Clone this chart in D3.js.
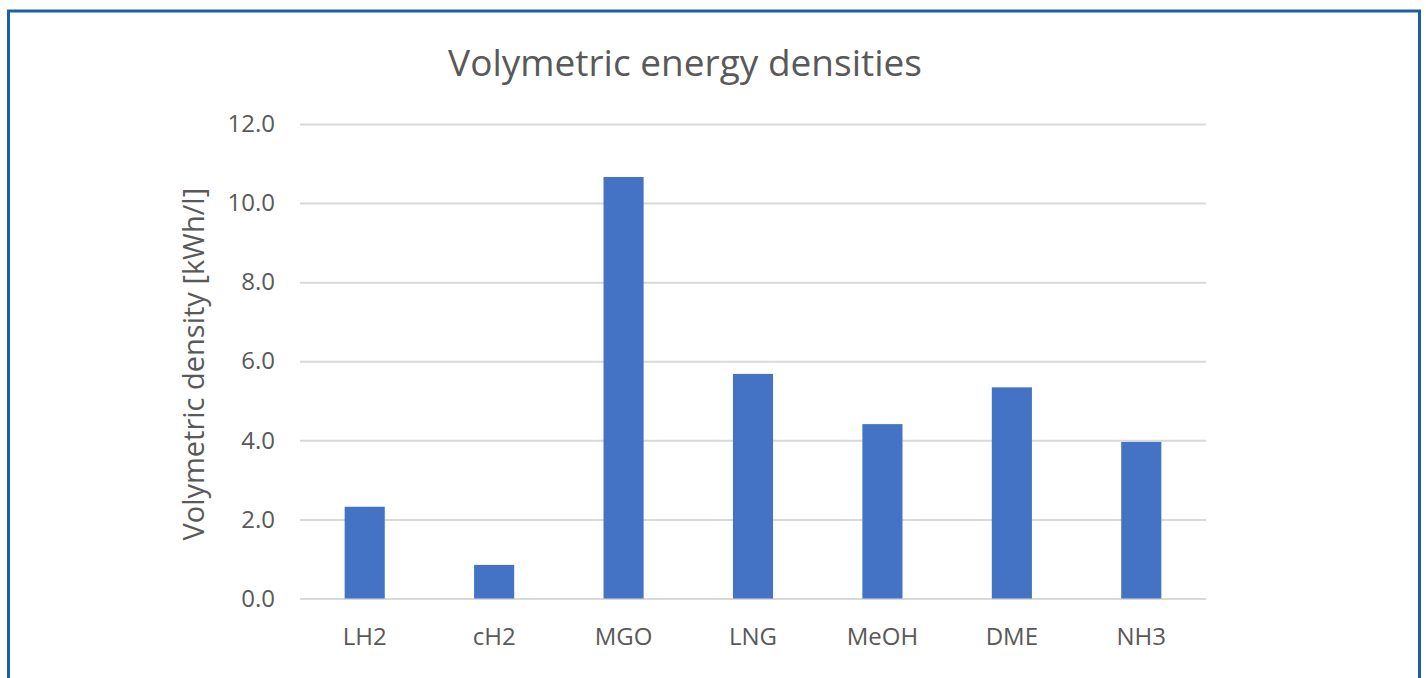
<!DOCTYPE html>
<html>
<head>
<meta charset="utf-8">
<script src="https://cdn.jsdelivr.net/npm/d3@7"></script>
<style>
  html, body { margin: 0; padding: 0; background: #fff; }
  svg { display: block; }
  text { font-family: "Open Sans", "Noto Sans", sans-serif; }
</style>
</head>
<body>
<svg id="chart" width="1426" height="678"></svg>
<script>
// Fuel types and their volumetric energy density (kWh per litre)
const fuels = ["LH2", "cH2", "MGO", "LNG", "MeOH", "DME", "NH3"];
const densities = [2.32, 0.85, 10.66, 5.68, 4.41, 5.34, 3.96];
const yTicks = [0, 2, 4, 6, 8, 10, 12];

const svg = d3.select("#chart");
const W = 1426, H = 678;

// Frame around the figure (open at the bottom edge)
svg.append("path")
  .attr("d", `M8.5,${H} L8.5,11 L1419.5,11 L1419.5,${H}`)
  .attr("fill", "none")
  .attr("stroke", "#1b5fa8")
  .attr("stroke-width", 3);

const plot = { left: 300, right: 1206, top: 124, bottom: 598.5 };

const x = d3.scaleBand()
  .domain(fuels)
  .range([plot.left, plot.right])
  .paddingInner(0.69)
  .paddingOuter(0.345);

const y = d3.scaleLinear()
  .domain([0, 12])
  .range([plot.bottom, plot.top]);

// Horizontal gridlines with value labels
const yAxis = d3.axisLeft(y)
  .tickValues(yTicks)
  .tickFormat(d3.format(".1f"))
  .tickSize(-(plot.right - plot.left))
  .tickPadding(25);

const gy = svg.append("g")
  .attr("transform", `translate(${plot.left},0)`)
  .call(yAxis);
gy.select(".domain").remove();
gy.selectAll(".tick line").attr("stroke", "#d9d9d9").attr("stroke-width", 2);
gy.selectAll(".tick text")
  .attr("fill", "#595959")
  .style("font-size", "24px");

// Bars
svg.append("g")
  .selectAll("rect")
  .data(fuels.map((f, i) => ({ fuel: f, value: densities[i] })))
  .join("rect")
  .attr("x", d => x(d.fuel))
  .attr("y", d => y(d.value))
  .attr("width", x.bandwidth())
  .attr("height", d => y(0) - y(d.value))
  .attr("fill", "#4472c4");

// Category labels
const xAxis = d3.axisBottom(x).tickSize(0).tickPadding(29);
const gx = svg.append("g")
  .attr("transform", `translate(0,${plot.bottom})`)
  .call(xAxis);
gx.select(".domain").remove();
gx.selectAll(".tick text")
  .attr("fill", "#595959")
  .style("font-size", "24px");

// Axis title
svg.append("text")
  .attr("transform", `translate(204,${(plot.top + plot.bottom) / 2 + 3}) rotate(-90)`)
  .attr("text-anchor", "middle")
  .attr("fill", "#595959")
  .style("font-size", "29px")
  .text("Volymetric density [kWh/l]");

// Chart title
svg.append("text")
  .attr("x", 685)
  .attr("y", 76)
  .attr("text-anchor", "middle")
  .attr("fill", "#595959")
  .style("font-size", "37px")
  .text("Volymetric energy densities");
</script>
</body>
</html>
